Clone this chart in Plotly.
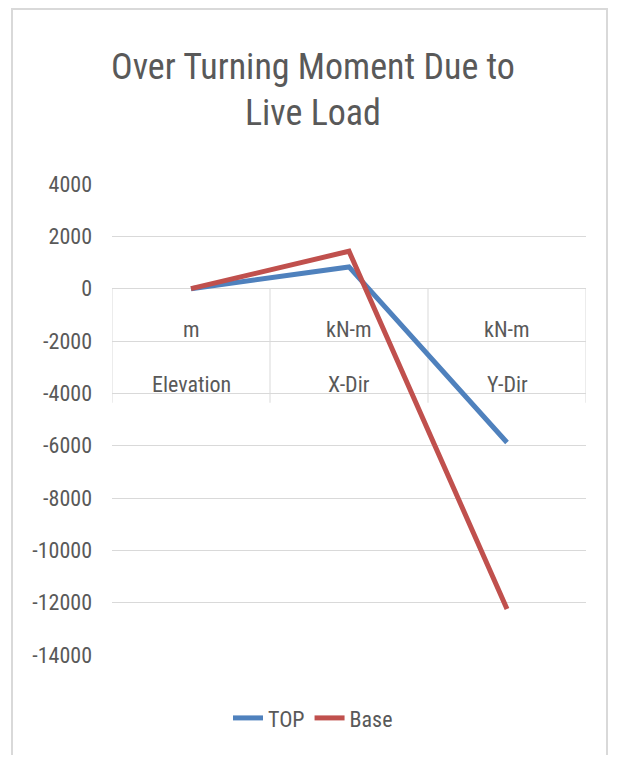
import plotly.graph_objects as go

# data ---------------------------------------------------------------------------------------------
units = ["m", "kN-m", "kN-m"]
names = ["Elevation", "X-Dir", "Y-Dir"]
top_vals = [0, 830, -5880]
base_vals = [0, 1430, -12240]
y_ticks = [4000, 2000, 0, -2000, -4000, -6000, -8000, -10000, -12000, -14000]

TXTCOL = "#595959"
GRDCOL = "#d9d9d9"
FNT = "Liberation Sans Narrow, Roboto Condensed, Liberation Sans, Arial, sans-serif"
xs = list(range(len(names)))

fig = go.Figure()
fig.add_trace(go.Scatter(x=xs, y=top_vals, name="TOP", mode="lines",
                         line=dict(color="#4F81BD", width=5)))
fig.add_trace(go.Scatter(x=xs, y=base_vals, name="Base", mode="lines",
                         line=dict(color="#C0504D", width=5)))

# category "table" below the zero line
for i in xs:
    fig.add_annotation(x=i, y=0, xref="x", yref="y", text=units[i], showarrow=False,
                       yanchor="middle", yshift=-41, font=dict(size=22, color=TXTCOL))
    fig.add_annotation(x=i, y=0, xref="x", yref="y", text=names[i], showarrow=False,
                       yanchor="middle", yshift=-96, font=dict(size=22, color=TXTCOL))
for b in [-0.5, 0.5, 1.5, 2.5]:
    fig.add_shape(type="line", xref="x", yref="y", x0=b, x1=b, y0=0, y1=-4360,
                  line=dict(color=GRDCOL, width=1), layer="below")

# outer chart frame
fig.add_shape(type="rect", xref="paper", yref="paper", x0=-0.211, x1=1.0443, y0=-0.3, y1=1.3715,
              line=dict(color=GRDCOL, width=2), fillcolor="rgba(0,0,0,0)", layer="below")

# page body keeps its 8px margin -> figure sized to fit the window exactly
# title + legend are centred on the whole chart frame, not the plot area (x=0.424)
fig.update_layout(
    width=601, height=747,
    margin=dict(l=104, r=23, t=176, b=100),
    paper_bgcolor="white", plot_bgcolor="white",
    font=dict(family=FNT, size=22, color=TXTCOL),
    title=dict(text="Over Turning Moment Due to<br>Live Load", font=dict(size=36, color=TXTCOL),
               x=0.424, xanchor="center", y=1 - 70.5 / 747, yanchor="middle", xref="paper"),
    legend=dict(orientation="h", x=0.424, xanchor="center", y=-0.134, yanchor="middle",
                font=dict(size=22, color=TXTCOL)),
)
fig.update_xaxes(range=[-0.5, 2.5], showticklabels=False, showgrid=False, zeroline=False,
                 showline=False, fixedrange=True)
fig.update_yaxes(range=[-14000, 4000], tickvals=y_ticks, ticktext=[str(v) for v in y_ticks],
                 showgrid=True, gridcolor=GRDCOL, gridwidth=1,
                 zeroline=True, zerolinecolor=GRDCOL, zerolinewidth=1,
                 showline=False, ticklabelstandoff=19, tickfont=dict(size=22, color=TXTCOL))

fig.write_html("out.html")
